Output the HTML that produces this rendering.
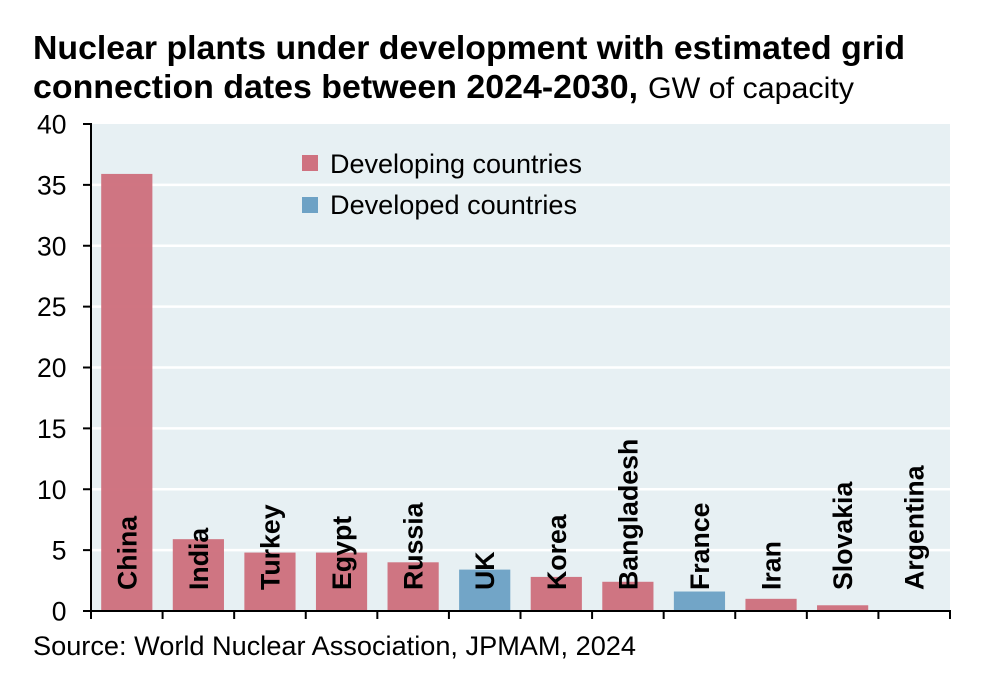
<!DOCTYPE html>
<html>
<head>
<meta charset="utf-8">
<title>Nuclear plants under development</title>
<style>
html,body{margin:0;padding:0;background:#fff;width:990px;height:678px;overflow:hidden}
svg{display:block}
text{font-family:"Liberation Sans",Arial,sans-serif;fill:#000}
</style>
</head>
<body>
<svg id="chart" width="990" height="678" viewBox="0 0 990 678" xmlns="http://www.w3.org/2000/svg">
  <text x="33" y="59" font-size="33" font-weight="bold" textLength="872" lengthAdjust="spacingAndGlyphs">Nuclear plants under development with estimated grid</text>
  <text x="33" y="98" font-size="33" font-weight="bold" textLength="605" lengthAdjust="spacingAndGlyphs">connection dates between 2024-2030,</text>
  <text x="648" y="98" font-size="29.5" textLength="206" lengthAdjust="spacingAndGlyphs">GW of capacity</text>
  <rect x="91" y="124" width="859" height="487" fill="#e7f0f3"/>
  <g id="grid"></g>
  <g id="bars"></g>
  <g id="labels"></g>
  <g id="axes"></g>
  <g>
    <rect x="302" y="155" width="16" height="16" fill="#cf7280"/>
    <text x="330" y="173" font-size="27" textLength="252" lengthAdjust="spacingAndGlyphs">Developing countries</text>
    <rect x="302" y="197" width="16" height="16" fill="#6ea2c5"/>
    <text x="330" y="214" font-size="27" textLength="247" lengthAdjust="spacingAndGlyphs">Developed countries</text>
  </g>
  <text x="33" y="655" font-size="27" textLength="603" lengthAdjust="spacingAndGlyphs">Source: World Nuclear Association, JPMAM, 2024</text>
</svg>
<script>
const categories = ["China","India","Turkey","Egypt","Russia","UK","Korea","Bangladesh","France","Iran","Slovakia","Argentina"];
const capacityValues = [35.9,5.9,4.8,4.8,4.0,3.4,2.8,2.4,1.6,1.0,0.47,0];
const countryGroups = ["developing","developing","developing","developing","developing","developed","developing","developing","developed","developing","developing","developing"];
const yTickLabels = [0,5,10,15,20,25,30,35,40];

const NS = "http://www.w3.org/2000/svg";
const plot = {left:91,right:950,top:124,bottom:611};
const groupColor = {developing:"#cd6c7a",developed:"#6a9fc3"};
const yMax = 40;
function yScale(v){return plot.bottom-(v/yMax)*(plot.bottom-plot.top);}
function bandWidth(){return (plot.right-plot.left)/categories.length;}
function xScale(i){return plot.left+i*bandWidth();}
function make(tag,attrs,parent){
  const el=document.createElementNS(NS,tag);
  for(const k in attrs){el.setAttribute(k,attrs[k]);}
  parent.appendChild(el);
  return el;
}
const grid=document.getElementById("grid");
const bars=document.getElementById("bars");
const labels=document.getElementById("labels");
const axes=document.getElementById("axes");

yTickLabels.forEach(function(t){
  if(t!==0&&t!==yMax){
    const g=make("line",{x1:plot.left,x2:plot.right,y1:yScale(t),y2:yScale(t),stroke:"#fff","stroke-width":2.5},grid);
    
    
  }
  const tick=make("line",{x1:83,x2:plot.left,y1:yScale(t),y2:yScale(t),stroke:"#000","stroke-width":2},axes);
  
  
  const lab=make("text",{x:66.5,y:yScale(t)+9.5,"font-size":26.5,"text-anchor":"end"},axes);
  
  
  lab.textContent=t;
});

categories.forEach(function(c,i){
  const bw=bandWidth();
  const barW=bw*0.715;
  const x=xScale(i)+(bw-barW)/2;
  const r=make("rect",{x:x,y:yScale(capacityValues[i]),width:barW,height:plot.bottom-yScale(capacityValues[i]),fill:groupColor[countryGroups[i]],"fill-opacity":0.94},bars);
  
  
  const cx=xScale(i)+bw/2+9.5;
  const t=make("text",{transform:"translate("+cx+",590) rotate(-90)","font-size":26.7,"font-weight":"bold"},labels);
  
  
  t.textContent=c;
});

for(let i=0;i<=categories.length;i++){
  const tk=make("line",{x1:xScale(i),x2:xScale(i),y1:plot.bottom,y2:619,stroke:"#000","stroke-width":2},axes);
  
  
}
const yAxis=make("line",{x1:plot.left,x2:plot.left,y1:plot.top-1,y2:plot.bottom+1,stroke:"#000","stroke-width":2},axes);


const xAxis=make("line",{x1:plot.left-1,x2:plot.right+1,y1:plot.bottom,y2:plot.bottom,stroke:"#000","stroke-width":2},axes);


</script>
</body>
</html>
